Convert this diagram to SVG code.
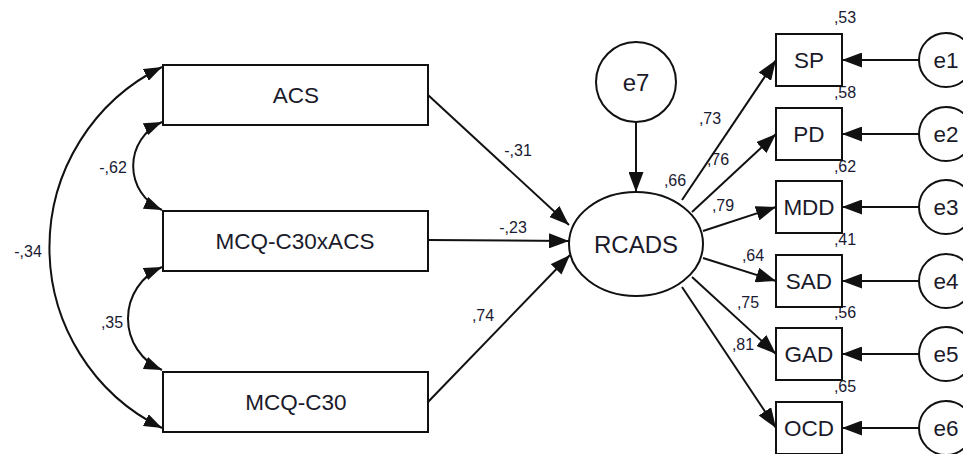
<svg xmlns="http://www.w3.org/2000/svg" width="963" height="454" viewBox="0 0 963 454">
<style>
.box{fill:#fff;stroke:#111;stroke-width:2}
.ln{fill:none;stroke:#111;stroke-width:2}
.t{font-family:"Liberation Sans",Arial,sans-serif;fill:#1a1a2a;text-anchor:middle;dominant-baseline:central}
.big{font-size:22.5px}
.lab{font-size:16px;fill:#1a1a33}
</style>
<defs>
<marker id="ah" markerUnits="userSpaceOnUse" markerWidth="20" markerHeight="15" refX="20" refY="7.5" orient="auto-start-reverse" viewBox="0 0 20 15">
<path d="M0,0 L20,7.5 L0,15 z" fill="#111"/>
</marker>
<marker id="ahs" markerUnits="userSpaceOnUse" markerWidth="18" markerHeight="13" refX="18" refY="6.5" orient="auto-start-reverse" viewBox="0 0 18 13">
<path d="M0,0 L18,6.5 L0,13 z" fill="#111"/>
</marker>
</defs>
<rect width="963" height="454" fill="#fff"/>
<g id="labels">
<text class="t lab" x="518" y="150">-,31</text>
<text class="t lab" x="513" y="227">-,23</text>
<text class="t lab" x="483" y="315">,74</text>
<text class="t lab" x="675" y="180">,66</text>
<text class="t lab" x="710" y="118">,73</text>
<text class="t lab" x="718" y="159">,76</text>
<text class="t lab" x="723" y="205">,79</text>
<text class="t lab" x="753" y="255">,64</text>
<text class="t lab" x="748" y="302">,75</text>
<text class="t lab" x="743" y="344">,81</text>
<text class="t lab" x="845" y="17">,53</text>
<text class="t lab" x="845" y="92">,58</text>
<text class="t lab" x="845" y="166">,62</text>
<text class="t lab" x="845" y="239">,41</text>
<text class="t lab" x="845" y="312">,56</text>
<text class="t lab" x="845" y="386">,65</text>
<text class="t lab" x="113" y="167">-,62</text>
<text class="t lab" x="112" y="322">,35</text>
<text class="t lab" x="28" y="251">-,34</text>
</g>
<g id="connectors">
<path class="ln" d="M162,67 A201,201 0 0 0 162,428" marker-start="url(#ahs)" marker-end="url(#ahs)"/>
<path class="ln" d="M162,122 A48,48 0 0 0 162,210" marker-start="url(#ahs)" marker-end="url(#ahs)"/>
<path class="ln" d="M162,267 A56,56 0 0 0 162,370" marker-start="url(#ahs)" marker-end="url(#ahs)"/>
<line class="ln" x1="428" y1="95" x2="569" y2="225" marker-end="url(#ah)"/>
<line class="ln" x1="428" y1="240" x2="569" y2="241" marker-end="url(#ah)"/>
<line class="ln" x1="428" y1="402" x2="570" y2="255" marker-end="url(#ah)"/>
<line class="ln" x1="636" y1="121" x2="636" y2="192" marker-end="url(#ah)"/>
<line class="ln" x1="682" y1="200" x2="776" y2="60" marker-end="url(#ah)"/>
<line class="ln" x1="692" y1="212" x2="776" y2="134" marker-end="url(#ah)"/>
<line class="ln" x1="703" y1="231" x2="776" y2="207" marker-end="url(#ah)"/>
<line class="ln" x1="703" y1="258" x2="776" y2="281" marker-end="url(#ah)"/>
<line class="ln" x1="692" y1="277" x2="776" y2="354" marker-end="url(#ah)"/>
<line class="ln" x1="682" y1="287" x2="776" y2="428" marker-end="url(#ah)"/>
<line class="ln" x1="919" y1="60" x2="842" y2="60" marker-end="url(#ah)"/>
<line class="ln" x1="919" y1="134" x2="842" y2="134" marker-end="url(#ah)"/>
<line class="ln" x1="919" y1="207" x2="842" y2="207" marker-end="url(#ah)"/>
<line class="ln" x1="919" y1="281" x2="842" y2="281" marker-end="url(#ah)"/>
<line class="ln" x1="919" y1="354" x2="842" y2="354" marker-end="url(#ah)"/>
<line class="ln" x1="919" y1="428" x2="842" y2="428" marker-end="url(#ah)"/>
</g>
<g id="ACS"><rect class="box" x="163" y="65" width="265" height="60"/><text class="t big" x="296" y="95">ACS</text></g>
<g id="MCQxACS"><rect class="box" x="163" y="211" width="265" height="60"/><text class="t big" x="295" y="241">MCQ-C30xACS</text></g>
<g id="MCQ"><rect class="box" x="163" y="372" width="265" height="60"/><text class="t big" x="296" y="402">MCQ-C30</text></g>
<g id="RCADS"><ellipse class="box" cx="636" cy="244" rx="67" ry="52"/><text class="t" font-size="24" x="636" y="244">RCADS</text></g>
<g id="e7"><circle class="box" cx="636" cy="82" r="40"/><text class="t" font-size="24" x="636" y="82">e7</text></g>
<g id="SP"><rect class="box" x="776" y="34" width="66" height="52"/><text class="t big" x="809" y="60">SP</text></g>
<g id="PD"><rect class="box" x="776" y="108" width="66" height="52"/><text class="t big" x="809" y="134">PD</text></g>
<g id="MDD"><rect class="box" x="776" y="181" width="66" height="52"/><text class="t big" x="809" y="207">MDD</text></g>
<g id="SAD"><rect class="box" x="776" y="255" width="66" height="52"/><text class="t big" x="809" y="281">SAD</text></g>
<g id="GAD"><rect class="box" x="776" y="328" width="66" height="52"/><text class="t big" x="809" y="354">GAD</text></g>
<g id="OCD"><rect class="box" x="776" y="402" width="66" height="52"/><text class="t big" x="809" y="428">OCD</text></g>
<g id="e1"><circle class="box" cx="946" cy="60" r="27"/><text class="t big" x="946" y="60">e1</text></g>
<g id="e2"><circle class="box" cx="946" cy="134" r="27"/><text class="t big" x="946" y="134">e2</text></g>
<g id="e3"><circle class="box" cx="946" cy="207" r="27"/><text class="t big" x="946" y="207">e3</text></g>
<g id="e4"><circle class="box" cx="946" cy="281" r="27"/><text class="t big" x="946" y="281">e4</text></g>
<g id="e5"><circle class="box" cx="946" cy="354" r="27"/><text class="t big" x="946" y="354">e5</text></g>
<g id="e6"><circle class="box" cx="946" cy="428" r="27"/><text class="t big" x="946" y="428">e6</text></g>
</svg>
